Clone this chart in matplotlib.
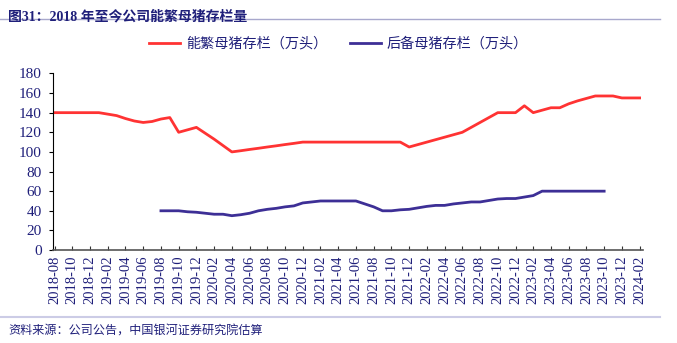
import matplotlib.pyplot as plt
import numpy as np
import pandas as pd

plt.rcParams['font.family'] = ['Liberation Serif', 'Noto Sans CJK SC']

# 月度数据 2018-08 ~ 2024-02
months = pd.date_range('2018-08-01', '2024-02-01', freq='MS').strftime('%Y-%m').tolist()

sow_breeding = [140, 140, 140, 140, 140, 140, 138.5, 137, 134, 131.5,
                130, 131, 133.5, 135, 120, 122.5, 125, 119, 113, 106.5,
                100, 101.2, 102.5, 103.7, 105, 106.2, 107.5, 108.7, 110, 110,
                110, 110, 110, 110, 110, 110, 110, 110, 110, 110,
                105, 107.5, 110, 112.5, 115, 117.5, 120, 125, 130, 135,
                140, 140, 140, 147, 140, 142.5, 145, 145, 149, 152,
                154.5, 157, 157, 157, 155, 155, 155]

# 后备母猪 2019-08 起
sow_reserve = [np.nan] * 12 + [
    40, 40, 40, 39, 38.5, 37.5, 36.5, 36.5, 35, 36,
    37.5, 40, 41.5, 42.5, 44, 45, 48, 49, 50, 50,
    50, 50, 50, 47, 44, 40, 40, 41, 41.5, 43,
    44.5, 45.5, 45.5, 47, 48, 49, 49, 50.5, 52, 52.5,
    52.5, 54, 55.5, 60, 60, 60, 60, 60, 60, 60, 60] + [np.nan] * 4

labels = ['能繁母猪存栏（万头）', '后备母猪存栏（万头）']
colors = ['#FF3333', '#3D2F96']
navy = '#1F1F7A'

x = np.arange(len(months))

fig = plt.figure(figsize=(6.77, 3.43), dpi=100)
ax = fig.add_axes([0.078, 0.271, 0.872, 0.515])

l1, = ax.plot(x, sow_breeding, color=colors[0], lw=2.0, label=labels[0])
l2, = ax.plot(x, sow_reserve, color=colors[1], lw=2.0, label=labels[1])

ax.set_xlim(-0.2, 66.4)
ax.set_ylim(0, 180)
ax.set_yticks(range(0, 181, 20))
ax.set_xticks(x[::2])
ax.set_xticklabels(months[::2], rotation=90, fontsize=10.5, color=navy)
ax.tick_params(axis='y', labelsize=11, labelcolor=navy, direction='out', length=3, pad=5)
ax.tick_params(axis='x', direction='in', length=3, pad=4, color='#333333')

for s in ['top', 'right']:
    ax.spines[s].set_visible(False)
ax.spines['left'].set_color('black')
ax.spines['bottom'].set_color('#555555')
ax.spines['bottom'].set_linewidth(1.2)

fig.legend(handles=[l1, l2], loc='center', bbox_to_anchor=(0.5, 0.872), ncol=2,
           frameon=False, fontsize=10.2, handlelength=2.2, handletextpad=0.4,
           columnspacing=1.6, labelcolor=navy)

# 标题与分隔线
fig.text(0.012, 0.97, '图31：2018 年至今公司能繁母猪存栏量', fontsize=10, fontweight='bold',
         color=navy, va='top', ha='left')
fig.add_artist(plt.Line2D([0, 0.975], [0.944, 0.944], color='#A8A8CC', lw=1.0))
fig.add_artist(plt.Line2D([0, 0.975], [0.075, 0.075], color='#CCCCE6', lw=1.5))
fig.text(0.012, 0.05, '资料来源：公司公告，中国银河证券研究院估算', fontsize=8.7,
         color=navy, va='top', ha='left')

fig.savefig('out.png', dpi=100)
